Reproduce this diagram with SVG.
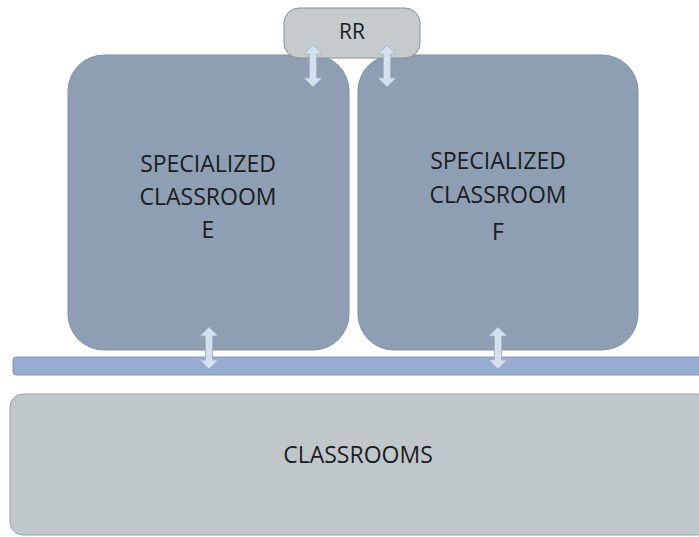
<svg xmlns="http://www.w3.org/2000/svg" width="699" height="537" viewBox="0 0 699 537">
<defs>
<style>
.room{fill:#8e9fb4;stroke:#7f8fa3;stroke-width:1}
.rr{fill:#c5cacd;stroke:#8b9093;stroke-width:1}
.corr{fill:#98acd2;stroke:#8797b2;stroke-width:1}
.cls{fill:#bfc7ca;stroke:#999fa2;stroke-width:1}
.lbl{font-family:"Open Sans","Liberation Sans",sans-serif;font-size:23px;fill:#1a1d21;text-anchor:middle}
.arr{fill:#d3e0ee;stroke:#a9b6c4;stroke-width:1}
</style>
<path id="dbl" class="arr" d="M0,-21 L9,-12 L3.5,-12 L3.5,12 L9,12 L0,21 L-9,12 L-3.5,12 L-3.5,-12 L-9,-12 Z"/>
</defs>
<rect width="699" height="537" fill="#ffffff"/>
<g id="classrooms">
<rect class="cls" x="10" y="394" width="700" height="141" rx="13"/>
<text class="lbl" x="358" y="463">CLASSROOMS</text>
</g>
<g id="corridor">
<rect class="corr" x="13" y="357" width="700" height="18" rx="3"/>
</g>
<g id="roomE">
<rect class="room" x="68" y="55" width="281" height="295" rx="36"/>
<text class="lbl" x="208" y="172">SPECIALIZED</text>
<text class="lbl" x="208" y="205">CLASSROOM</text>
<text class="lbl" x="208" y="238">E</text>
</g>
<g id="roomF">
<rect class="room" x="358" y="55" width="280" height="295" rx="36"/>
<text class="lbl" x="498" y="169">SPECIALIZED</text>
<text class="lbl" x="498" y="203">CLASSROOM</text>
<text class="lbl" x="498" y="240">F</text>
</g>
<g id="rr">
<rect class="rr" x="284" y="8" width="136" height="50" rx="15"/>
<text class="lbl" x="352" y="39" style="font-size:21px">RR</text>
</g>
<g id="connectors">
<use href="#dbl" x="313" y="66"/>
<use href="#dbl" x="387" y="66"/>
<use href="#dbl" x="209" y="348"/>
<use href="#dbl" x="498" y="348"/>
</g>
</svg>
